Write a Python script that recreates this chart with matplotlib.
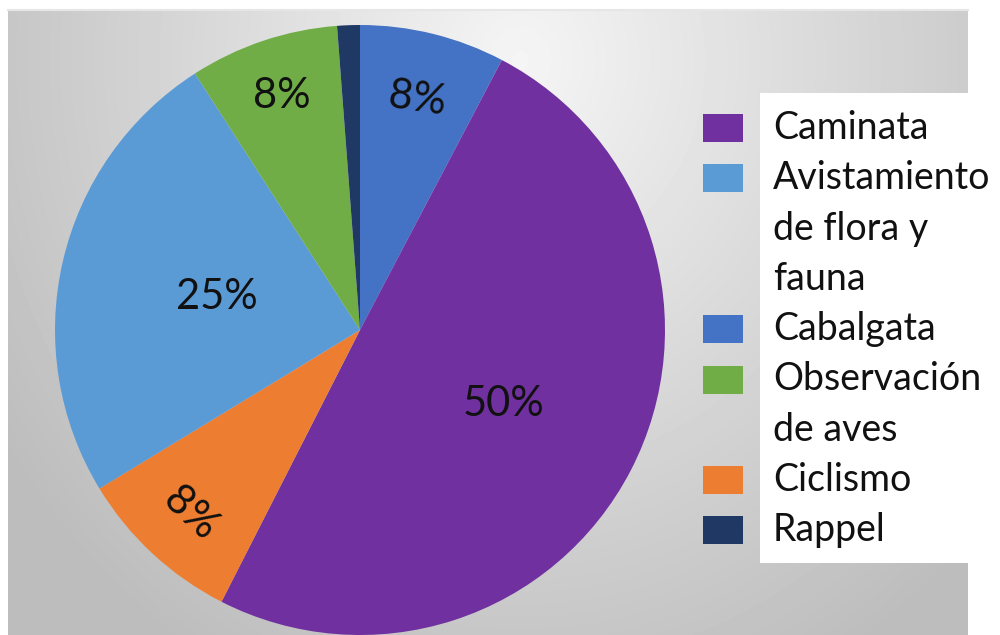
import matplotlib
matplotlib.use("Agg")
import matplotlib.pyplot as plt
import matplotlib.patches as mpatches
import numpy as np

plt.rcParams['font.family'] = ['Lato', 'DejaVu Sans']

# data, in clockwise order from the top of the pie
slices = ['Cabalgata', 'Caminata', 'Ciclismo', 'Avistamiento de flora y fauna',
          'Observación de aves', 'Rappel']
values = [7.7, 49.8, 8.8, 24.6, 7.9, 1.2]
pct_labels = ['8%', '50%', '8%', '25%', '8%', '']
colors = ['#4472C4', '#7030A0', '#ED7D31', '#5B9BD5', '#70AD47', '#203864']

# legend order and line breaks
legend_labels = ['Caminata', 'Avistamiento\nde flora y\nfauna', 'Cabalgata',
                 'Observación\nde aves', 'Ciclismo', 'Rappel']
legend_colors = ['#7030A0', '#5B9BD5', '#4472C4', '#70AD47', '#ED7D31', '#203864']

W, H = 1000, 635
fig = plt.figure(figsize=(W / 100, H / 100), dpi=100)

# background panel with a soft gray gradient
bg = fig.add_axes([0, 0, 1, 1])
bg.set_xlim(0, W)
bg.set_ylim(H, 0)
bg.axis('off')
yy, xx = np.mgrid[0:H, 0:W]
d = np.sqrt(((xx - 520) / 620.0) ** 2 + ((yy - 60) / 700.0) ** 2)
grad = np.clip(0.96 - 0.22 * d, 0.74, 0.96)
bg.imshow(grad[10:, 8:968], cmap='gray', vmin=0, vmax=1,
          extent=[8, 968, H, 10], aspect='auto', zorder=0)
bg.plot([8, 968], [10, 10], color='#e6e6e6', lw=1.5, zorder=1)
bg.add_patch(mpatches.Rectangle((760, 93), 245, 470, facecolor='white',
                                edgecolor='none', zorder=2))

# pie
cx, cy, r = 360, 330, 305
ax = fig.add_axes([(cx - r) / W, (H - cy - r) / H, 2 * r / W, 2 * r / H])
wedges, _ = ax.pie(values, colors=colors, startangle=90, counterclock=False,
                   radius=1, wedgeprops=dict(linewidth=0))
ax.set_xlim(-1, 1)
ax.set_ylim(-1, 1)
ax.set_aspect('auto')

dist = [0.78, 0.53, 0.82, 0.48, 0.81, 0.8]
rot = [-8, 0, -43, 0, 0, 0]
for w, lab, dd, rr in zip(wedges, pct_labels, dist, rot):
    if not lab:
        continue
    mid = np.deg2rad((w.theta1 + w.theta2) / 2)
    ax.text(dd * np.cos(mid), dd * np.sin(mid), lab, ha='center', va='center',
            fontsize=30, color='#111111', rotation=rr)

# legend drawn by hand so markers sit on the first line of each entry
line_h = 50.3
y0 = 128
line = 0
for lab, col in zip(legend_labels, legend_colors):
    y = y0 + line * line_h
    bg.add_patch(mpatches.Rectangle((703, y - 14), 40, 28, facecolor=col,
                                    edgecolor='none', zorder=3))
    for k, part in enumerate(lab.split('\n')):
        bg.text(773, y + k * line_h, part, ha='left', va='center',
                fontsize=27, color='#111111', zorder=4)
    line += len(lab.split('\n'))

fig.savefig('out.png', dpi=100)
